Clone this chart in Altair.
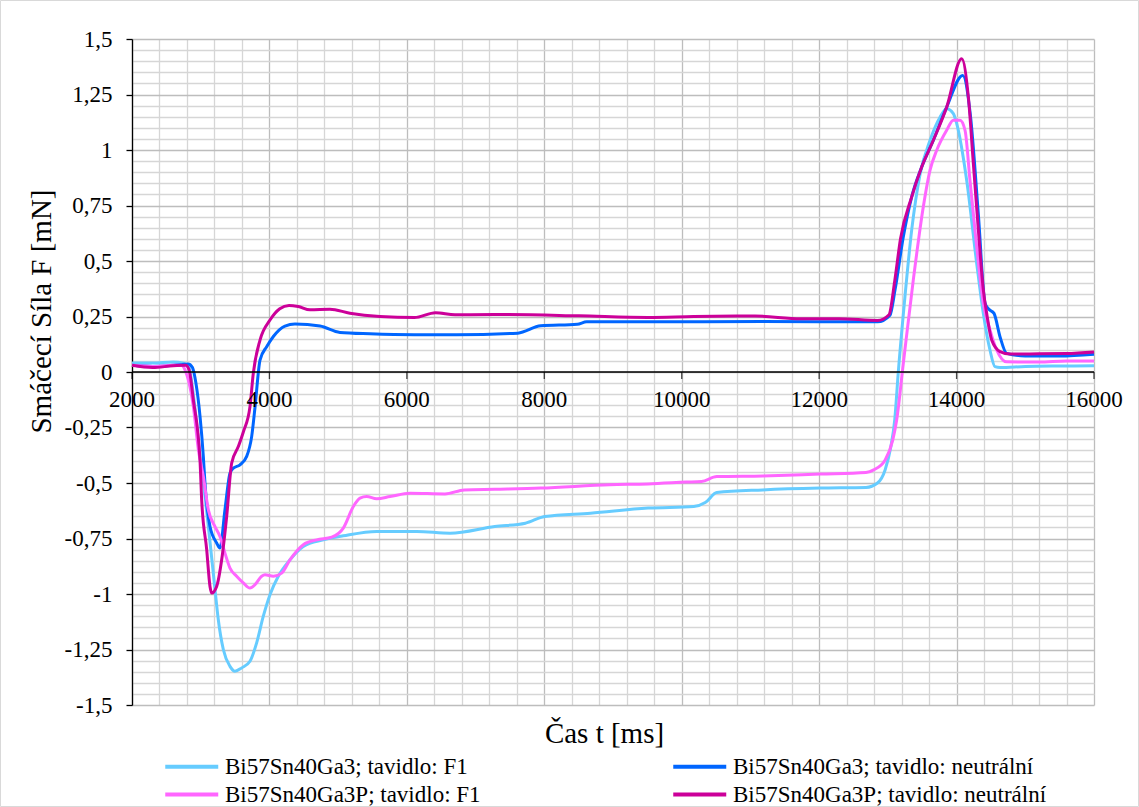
import altair as alt
import pandas as pd
import numpy as np

FONT = "Liberation Serif, DejaVu Serif, serif"

series_names = [
    "Bi57Sn40Ga3; tavidlo: F1",
    "Bi57Sn40Ga3; tavidlo: neutrální",
    "Bi57Sn40Ga3P; tavidlo: F1",
    "Bi57Sn40Ga3P; tavidlo: neutrální",
]
series_colors = ["#66ccff", "#0066ff", "#ff66ff", "#cc0099"]

# Bi57Sn40Ga3; tavidlo: F1
t_ga3_f1 = [2000, 2300, 2600, 2750, 2830, 2900, 2990, 3070, 3130, 3208, 3256, 3329, 3426, 3499,
            3596, 3717, 3814, 3911, 4008, 4129, 4299, 4493, 4784, 5075, 5561, 6143, 6628, 7280,
            7725, 8005, 8673, 9510, 10176, 10343, 10511, 11179, 12013, 12682, 12849, 12961,
            13044, 13100, 13152, 13249, 13347, 13468, 13614, 13759, 13856, 13953, 14002, 14147,
            14293, 14389, 14486, 14559, 14632, 15000, 15500, 16000]
f_ga3_f1 = [0.04, 0.04, 0.045, 0.04, 0.02, -0.12, -0.38, -0.58, -0.75, -0.98, -1.116, -1.25, -1.326,
            -1.348, -1.333, -1.303, -1.22, -1.1, -1.003, -0.92, -0.846, -0.786, -0.756, -0.738,
            -0.718, -0.718, -0.726, -0.696, -0.681, -0.651, -0.636, -0.613, -0.606, -0.588,
            -0.543, -0.531, -0.523, -0.52, -0.5, -0.44, -0.336, -0.216, 0.0, 0.34, 0.64, 0.89,
            1.044, 1.148, 1.186, 1.164, 1.119, 0.864, 0.489, 0.264, 0.099, 0.024, 0.02, 0.025,
            0.027, 0.028]

# Bi57Sn40Ga3; tavidlo: neutrální
t_ga3_neu = [2000, 2300, 2600, 2820, 2880, 2930, 2990, 3038, 3062, 3135, 3232, 3280, 3353, 3426,
             3475, 3572, 3669, 3742, 3790, 3863, 3960, 4057, 4226, 4372, 4736, 5027, 5464, 6110,
             6722, 7615, 7948, 8480, 8617, 9510, 11180, 12850, 13031, 13104, 13225, 13347, 13492,
             13662, 13856, 14089, 14200, 14317, 14414, 14462, 14545, 14632, 14729, 15000, 15500,
             16000]
f_ga3_neu = [0.03, 0.025, 0.03, 0.036, 0.02, -0.05, -0.2, -0.38, -0.5, -0.696, -0.77, -0.793, -0.62,
             -0.456, -0.433, -0.418, -0.38, -0.29, -0.16, 0.054, 0.114, 0.16, 0.207, 0.216, 0.207,
             0.178, 0.172, 0.168, 0.168, 0.175, 0.208, 0.215, 0.226, 0.226, 0.227, 0.226, 0.256,
             0.369, 0.609, 0.789, 0.923, 1.044, 1.193, 1.336, 1.16, 0.71, 0.31, 0.285, 0.264,
             0.159, 0.084, 0.072, 0.072, 0.08]

# Bi57Sn40Ga3P; tavidlo: F1
t_ga3p_f1 = [2000, 2300, 2600, 2720, 2771, 2893, 2966, 3038, 3111, 3208, 3280, 3353, 3426, 3523,
             3620, 3717, 3790, 3887, 3935, 4057, 4178, 4299, 4493, 4687, 4906, 5075, 5221, 5318,
             5415, 5561, 5755, 6046, 6555, 6835, 7280, 7948, 8950, 9510, 10066, 10288, 10511,
             11179, 12013, 12682, 12794, 12961, 13072, 13128, 13225, 13370, 13516, 13614, 13711,
             13856, 13953, 14050, 14123, 14195, 14293, 14389, 14486, 14583, 14729, 15200, 15600,
             16000]
f_ga3p_f1 = [0.03, 0.025, 0.03, 0.03, 0.01, -0.156, -0.35, -0.471, -0.621, -0.696, -0.741, -0.816,
             -0.883, -0.92, -0.95, -0.973, -0.958, -0.92, -0.913, -0.92, -0.906, -0.846, -0.778,
             -0.756, -0.744, -0.703, -0.606, -0.568, -0.561, -0.571, -0.561, -0.546, -0.549,
             -0.531, -0.528, -0.523, -0.508, -0.504, -0.496, -0.493, -0.471, -0.468, -0.46,
             -0.453, -0.441, -0.396, -0.306, -0.216, 0.039, 0.414, 0.744, 0.909, 0.999, 1.089,
             1.134, 1.134, 1.089, 0.864, 0.564, 0.31, 0.19, 0.1, 0.046, 0.045, 0.05, 0.05]

# Bi57Sn40Ga3P; tavidlo: neutrální
t_ga3p_neu = [2000, 2300, 2600, 2780, 2830, 2893, 2990, 3014, 3087, 3135, 3160, 3232, 3305, 3378,
              3451, 3547, 3620, 3717, 3765, 3863, 4008, 4150, 4285, 4420, 4590, 4880, 5170, 5609,
              6110, 6417, 6700, 7280, 8505, 9510, 10176, 11066, 11736, 12290, 12850, 13017, 13100,
              13184, 13347, 13492, 13662, 13856, 14074, 14171, 14244, 14317, 14389, 14438, 14511,
              14632, 14778, 15200, 15600, 16000]
f_ga3p_neu = [0.03, 0.02, 0.028, 0.03, 0.01, -0.126, -0.4, -0.576, -0.8, -0.966, -0.996, -0.966,
              -0.846, -0.65, -0.41, -0.336, -0.27, -0.156, -0.006, 0.144, 0.234, 0.285, 0.3, 0.295,
              0.28, 0.283, 0.265, 0.25, 0.245, 0.267, 0.258, 0.259, 0.253, 0.246, 0.25, 0.252,
              0.24, 0.24, 0.232, 0.258, 0.41, 0.6, 0.789, 0.923, 1.044, 1.193, 1.411, 1.24, 0.94,
              0.64, 0.37, 0.265, 0.144, 0.092, 0.081, 0.082, 0.083, 0.09]

x_tick_values = [2000, 4000, 6000, 8000, 10000, 12000, 14000, 16000]
x_grid_values = list(range(2000, 16001, 400))
y_grid_values = [round(float(v), 2) for v in np.arange(-1.5, 1.5001, 0.05)]

rows = []
for name, ts, fs in zip(series_names,
                        [t_ga3_f1, t_ga3_neu, t_ga3p_f1, t_ga3p_neu],
                        [f_ga3_f1, f_ga3_neu, f_ga3p_f1, f_ga3p_neu]):
    for t, f in zip(ts, fs):
        rows.append({"t": t, "F": f, "series": name})
df = pd.DataFrame(rows)

W, H = 962, 666
x_scale = alt.Scale(domain=[2000, 16000], nice=False, zero=False)
y_scale = alt.Scale(domain=[-1.5, 1.5], nice=False, zero=False)

major_y = "abs(datum.value*4 - round(datum.value*4)) < 1e-6"

x_axis = alt.Axis(
    values=x_grid_values, grid=True,
    gridColor={"condition": {"test": "datum.value % 2000 === 0", "value": "#bdbdbd"}, "value": "#d6d6d6"},
    gridWidth=1.3, labels=False, ticks=False, domain=False,
    title="Čas t [ms]", titleFont=FONT, titleFontSize=29, titleFontWeight="normal",
    titleColor="black", titleX=472, titleY=37, titleBaseline="alphabetic", titleAlign="center",
)
y_axis = alt.Axis(
    values=y_grid_values, grid=True,
    gridColor={"condition": {"test": major_y, "value": "#bdbdbd"}, "value": "#d6d6d6"},
    gridWidth=1.3,
    labelExpr=f"{major_y} ? replace(toString(datum.value), '.', ',') : ''",
    labelFont=FONT, labelFontSize=23, labelColor="black", labelPadding=14,
    tickOpacity={"condition": {"test": major_y, "value": 1}, "value": 0},
    tickSize=6, tickColor="black", tickWidth=1.3,
    domainColor="black", domainWidth=1.3,
    title="Smáčecí Síla F [mN]", titleFont=FONT, titleFontSize=29, titleFontWeight="normal",
    titleColor="black", titleX=-82, titleY=272, titleBaseline="alphabetic", titleAlign="center",
    titleAngle=270,
)

lines = alt.Chart(df).mark_line(strokeWidth=3, interpolate="monotone").encode(
    x=alt.X("t:Q", scale=x_scale, axis=x_axis),
    y=alt.Y("F:Q", scale=y_scale, axis=y_axis),
    color=alt.Color(
        "series:N",
        scale=alt.Scale(domain=series_names, range=series_colors),
        sort=series_names,
        legend=alt.Legend(
            title=None, orient="none", legendX=31, legendY=712, columns=2,
            direction="horizontal",
            columnPadding=184, rowPadding=0, symbolType="M-1,0H3", symbolSize=702,
            symbolStrokeWidth=4, labelFont=FONT, labelFontSize=23, labelColor="black",
            labelLimit=600, labelOffset=31,
        ),
    ),
)

zero_df = pd.DataFrame({"F": [0.0]})
zero_rule = alt.Chart(zero_df).mark_rule(color="black", strokeWidth=1.5).encode(
    y=alt.Y("F:Q", scale=y_scale, axis=y_axis)
)

ticks_df = pd.DataFrame({"t": x_tick_values, "label": [str(v) for v in x_tick_values]})
x_ticks = alt.Chart(ticks_df).mark_tick(
    orient="vertical", size=7, thickness=1.3, color="black", yOffset=3.5
).encode(
    x=alt.X("t:Q", scale=x_scale, axis=x_axis),
    y=alt.datum(0, scale=y_scale, axis=y_axis),
)
x_labels = alt.Chart(ticks_df).mark_text(
    font=FONT, fontSize=23, color="black", baseline="alphabetic", align="center", dy=35
).encode(
    x=alt.X("t:Q", scale=x_scale, axis=x_axis),
    y=alt.datum(0, scale=y_scale, axis=y_axis),
    text="label:N",
)

frame = alt.Chart(pd.DataFrame({"a": [0]})).mark_rect(
    fillOpacity=0, stroke="#d9d9d9", strokeWidth=1
).encode(
    x=alt.value(-131.5), x2=alt.value(W + 44.5), y=alt.value(-38.5), y2=alt.value(H + 101.5)
)

chart = alt.layer(lines, zero_rule, x_ticks, x_labels, frame).properties(
    width=W, height=H,
    autosize=alt.AutoSizeParams(type="none"),
    padding={"left": 132, "top": 39, "right": 45, "bottom": 102},
    background="white",
).configure_view(stroke=None)

chart.save("out.html", embed_options={"renderer": "svg", "actions": False})
